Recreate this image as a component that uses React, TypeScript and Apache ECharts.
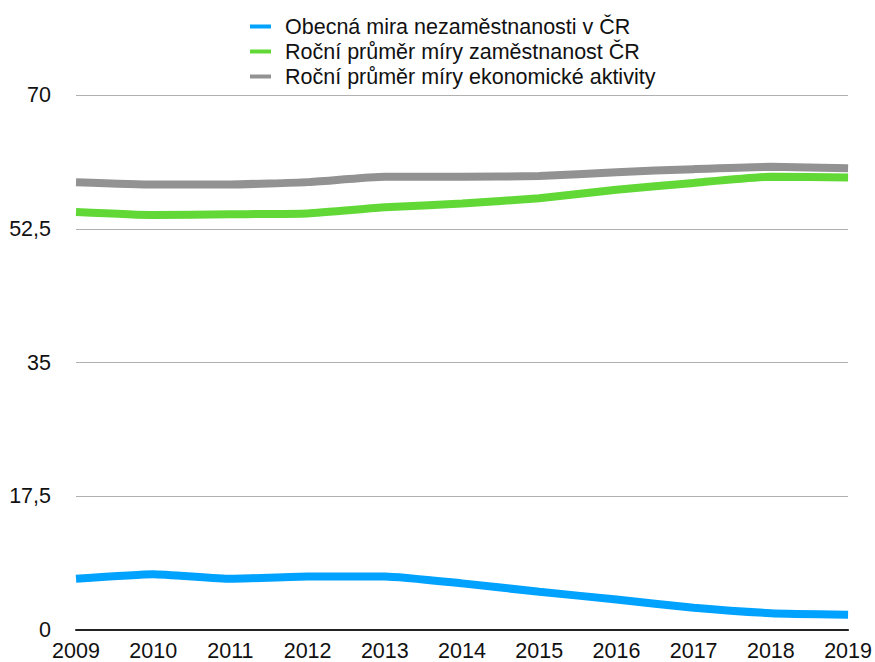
import React, { useEffect, useRef } from "react";
import * as echarts from "echarts";

const years = ["2009", "2010", "2011", "2012", "2013", "2014", "2015", "2016", "2017", "2018", "2019"];
const unemployment = [6.7, 7.3, 6.7, 7.0, 7.0, 6.1, 5.0, 4.0, 2.9, 2.2, 2.0];
const employment = [54.7, 54.3, 54.4, 54.5, 55.3, 55.8, 56.5, 57.6, 58.5, 59.3, 59.2];
const activity = [58.6, 58.3, 58.3, 58.6, 59.3, 59.3, 59.4, 59.9, 60.3, 60.6, 60.4];
const seriesNames = [
  "Obecná mira nezaměstnanosti v ČR",
  "Roční průměr míry zaměstnanost ČR",
  "Roční průměr míry ekonomické aktivity",
];
const colors = ["#00A2FF", "#61D836", "#929292"];

const FONT = "'Liberation Sans', Arial, Helvetica, sans-serif";

export default function App() {
  const ref = useRef<HTMLDivElement>(null);
  useEffect(() => {
    if (!ref.current) return;
    const chart = echarts.init(ref.current, undefined, { renderer: "svg" });
    const data = [unemployment, employment, activity];
    chart.setOption({
      animation: false,
      backgroundColor: "#ffffff",
      textStyle: { fontFamily: FONT },
      legend: {
        orient: "vertical",
        left: 250,
        top: 14,
        padding: 0,
        itemGap: 0,
        itemWidth: 21,
        itemHeight: 4,
        icon: "rect",
        data: seriesNames.map((n, i) => ({ name: n, itemStyle: { color: colors[i] } })),
        textStyle: {
          fontFamily: FONT,
          fontSize: 21.5,
          color: "#111",
          lineHeight: 25,
          padding: [0, 0, 0, 9],
        },
      },
      grid: { left: 76, right: 23, top: 95, bottom: 32, containLabel: false },
      xAxis: {
        type: "category",
        data: years,
        boundaryGap: false,
        axisLine: { show: true, lineStyle: { color: "#222", width: 2 } },
        axisTick: { show: false },
        axisLabel: { fontFamily: FONT, fontSize: 21.5, color: "#111", margin: 10, interval: 0 },
        splitLine: { show: false },
      },
      yAxis: {
        type: "value",
        min: 0,
        max: 70,
        interval: 17.5,
        axisLine: { show: false },
        axisTick: { show: false },
        axisLabel: {
          fontFamily: FONT,
          fontSize: 21.5,
          color: "#111",
          margin: 25,
          formatter: (v: number) => String(v).replace(".", ","),
        },
        splitLine: { show: true, lineStyle: { color: "#b0b0b0", width: 1 } },
      },
      series: seriesNames.map((n, i) => ({
        name: n,
        type: "line",
        data: data[i],
        smooth: 0.15,
        symbol: "none",
        lineStyle: { color: colors[i], width: 8 },
        itemStyle: { color: colors[i] },
        z: 3 - i,
      })),
    });
    return () => chart.dispose();
  }, []);
  return (
    <div
      ref={ref}
      style={{ position: "fixed", left: 0, top: 0, width: 875, height: 662 }}
    />
  );
}
